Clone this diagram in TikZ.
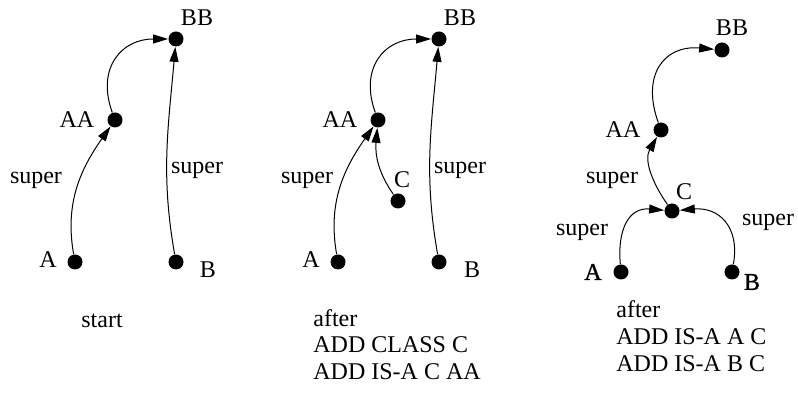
\documentclass[tikz,border=0pt]{standalone}
\usepackage{fontspec}
\setmainfont{Liberation Serif}
\newfontface\heavyface{Liberation Serif}[FakeBold=1.2]
\usetikzlibrary{arrows.meta}
\begin{document}
\begin{tikzpicture}[x=0.5pt,y=0.5pt,font=\fontsize{12}{13.5}\selectfont,
	vertex/.style={circle,fill,inner sep=0pt,minimum size=7.5pt},
	txt/.style={inner sep=0pt},
	isa/.style={line width=0.5pt,-{Triangle[length=7.5pt,width=4.5pt]}}]
\useasboundingbox (0,0) rectangle (798,394);
% start
\node[vertex] (BB1) at (176,355) {};
\node[vertex] (AA1) at (115,274) {};
\node[vertex] (A1) at (75,132) {};
\node[vertex] (B1) at (176,132) {};
\node[txt] (lBB1) at (197,376) {BB};
\node[txt] (lAA1) at (77,274) {AA};
\node[txt] (lA1) at (48,134) {A};
\node[txt] (lB1) at (208,124) {B};
\node[txt] (s1a) at (36,214) {super};
\node[txt] (s1b) at (197,224) {super};
\node[txt,anchor=base west] (t1) at (81,66) {start};
\draw[isa] (A1) to[out=100,in=235] (AA1);
\draw[isa] (AA1) to[out=110,in=180,looseness=1.3] (BB1);
\draw[isa] (B1) to[out=100,in=-95] (BB1);
% after ADD CLASS C
\node[vertex] (BB2) at (439,355) {};
\node[vertex] (AA2) at (378,274) {};
\node[vertex] (C2) at (398,193) {};
\node[vertex] (A2) at (338,132) {};
\node[vertex] (B2) at (439,132) {};
\node[txt] (lBB2) at (460,376) {BB};
\node[txt] (lAA2) at (340,274) {AA};
\node[txt] (lC2) at (402,214) {C};
\node[txt] (lA2) at (311,134) {A};
\node[txt] (lB2) at (472,124) {B};
\node[txt] (s2a) at (307,214) {super};
\node[txt] (s2b) at (460,224) {super};
\node[txt,anchor=base west] (t2a) at (313,67) {after};
\node[txt,anchor=base west] (t2b) at (313,41) {ADD CLASS C};
\node[txt,anchor=base west] (t2c) at (313,14) {ADD IS-A C AA};
\draw[isa] (A2) to[out=100,in=235] (AA2);
\draw[isa] (AA2) to[out=110,in=180,looseness=1.3] (BB2);
\draw[isa] (B2) to[out=100,in=-95] (BB2);
\draw[isa] (C2) to[out=125,in=-95] (AA2);
% after ADD IS-A A C, ADD IS-A B C
\node[vertex] (BB3) at (722,344) {};
\node[vertex] (AA3) at (661,264) {};
\node[vertex] (C3) at (672,183) {};
\node[vertex] (A3) at (621,122) {};
\node[vertex] (B3) at (732,122) {};
\node[txt] (lBB3) at (732,366) {BB};
\node[txt] (lAA3) at (623,264) {AA};
\node[txt] (lC3) at (684,202) {C};
\node[txt] (lA3) at (593,122) {\heavyface A};
\node[txt] (lB3) at (752,112) {\heavyface B};
\node[txt] (s3a) at (612,214) {super};
\node[txt] (s3b) at (582,162) {super};
\node[txt] (s3c) at (768,172) {super};
\node[txt,anchor=base west] (t3a) at (616,76) {after};
\node[txt,anchor=base west] (t3b) at (616,49) {ADD IS-A A C};
\node[txt,anchor=base west] (t3c) at (616,22) {ADD IS-A B C};
\draw[isa] (AA3) to[out=110,in=175,looseness=1.4] (BB3);
\draw[isa] (C3) to[out=125,in=240] (AA3);
\draw[isa] (A3) to[out=95,in=175,looseness=1.3] (C3);
\draw[isa] (B3) to[out=80,in=5,looseness=1.3] (C3);
\end{tikzpicture}
\end{document}
